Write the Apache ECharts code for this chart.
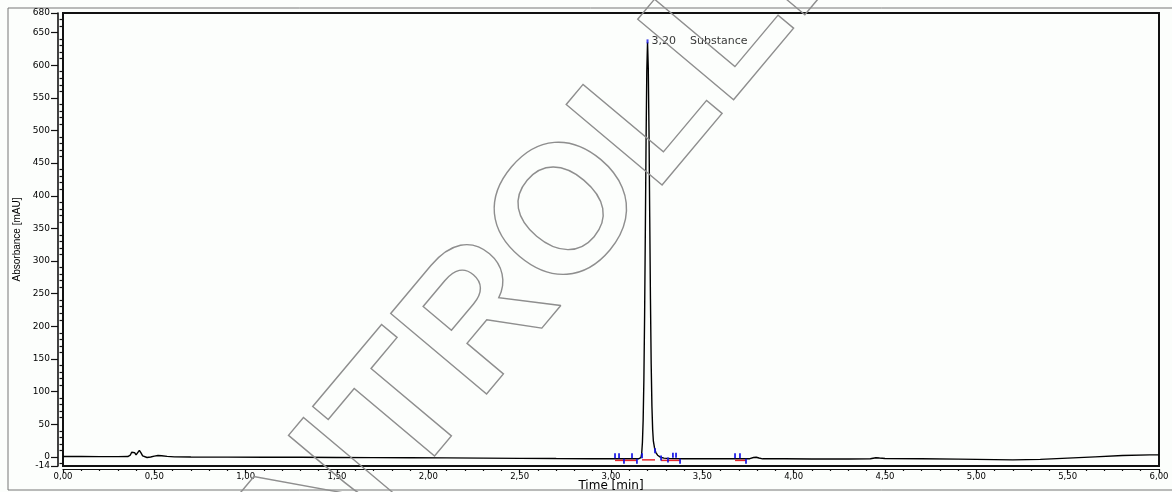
<!DOCTYPE html>
<html>
<head>
<meta charset="utf-8">
<script src="https://cdn.jsdelivr.net/npm/echarts@6/dist/echarts.min.js"></script>
<style>
  html, body { margin: 0; padding: 0; background: #fcfefc; }
  #chart { width: 1172px; height: 492px; }
</style>
</head>
<body>
<div id="chart"></div>
<script>
// Chromatogram trace: retention time (min) and detector signal (mAU)
const times = [
  0.00, 0.10, 0.20, 0.30, 0.355, 0.368, 0.376, 0.383, 0.392, 0.400, 0.408, 0.418, 0.427, 0.436, 0.445,
  0.460, 0.480, 0.500, 0.520, 0.540, 0.570, 0.610, 0.700, 0.900, 1.100, 1.300, 1.500, 1.700, 1.900, 2.100,
  2.300, 2.500, 2.700, 2.900, 3.050, 3.150, 3.164, 3.168, 3.172, 3.176, 3.180, 3.184, 3.188, 3.192,
  3.196, 3.200, 3.204, 3.208, 3.212, 3.216, 3.220, 3.224, 3.228, 3.232, 3.238, 3.245, 3.255, 3.270,
  3.290, 3.320, 3.400, 3.550, 3.700, 3.760, 3.780, 3.795, 3.810, 3.830, 3.950, 4.100, 4.300, 4.420,
  4.450, 4.470, 4.500, 4.700, 4.900, 5.100, 5.200, 5.350, 5.500, 5.650, 5.800, 5.950, 6.000
];
const absorbance = [
  0.5, 0.5, 0.4, 0.4, 0.5, 2.5, 7.0, 10.0, 6.5, 3.0, 6.0, 10.0, 6.0, 1.5, -0.8,
  -1.0, -0.2, 1.2, 2.0, 1.8, 0.8, 0.0, -0.3, -0.4, -0.5, -0.7, -0.9, -1.1, -1.3, -1.6,
  -2.0, -2.3, -2.6, -2.8, -3.0, -3.0, -1.0, 5.0, 22, 56, 118, 217, 347, 485,
  591, 635, 597, 500, 368, 242, 142, 78, 42, 24, 14, 7, 2.5, -0.5,
  -2.0, -2.6, -2.8, -2.8, -2.9, -2.8, -1.0, -0.6, -1.8, -3.0, -3.0, -3.3, -3.2, -2.8,
  -1.3, -1.8, -2.4, -2.9, -3.4, -4.2, -4.6, -3.8, -2.0, 0.0, 2.0, 3.0, 3.0
];

// Identified peak
const peakTimes = [3.20];
const peakHeights = [635];
const peakNames = ['Substance'];

// Integration marks: time, signal level, direction (1 = up, -1 = down)
const markTimes  = [3.022, 3.044, 3.071, 3.115, 3.142, 3.170, 3.241, 3.274, 3.312, 3.339, 3.356, 3.378, 3.679, 3.706, 3.739];
const markLevels = [-2.3, -2.3, -3.0, -2.3, -3.0, -2.3, 5.5, 2.0, -1.0, -1.5, -1.5, -3.0, -2.3, -2.3, -3.0];
const markDirs   = [1, 1, -1, 1, -1, 1, 1, -1, -1, 1, 1, -1, 1, 1, -1];

// Integration baselines
const baseStart = [3.022, 3.170, 3.274, 3.679];
const baseEnd   = [3.142, 3.241, 3.378, 3.739];
const baseLevel = [-5.4, -4.6, -5.4, -5.4];

// Axis ticks
const xMin = 0, xMax = 6, xStep = 0.5;
const yMin = -14, yMax = 680;
const yTickLabels = [-14, 0, 50, 100, 150, 200, 250, 300, 350, 400, 450, 500, 550, 600, 650, 680];
const yMinorTicks = [];
for (let v = -10; v <= 670; v += 10) {
  if (v % 50 !== 0) yMinorTicks.push(v);
}

const fmtComma = (v, d) => v.toFixed(d).replace('.', ',');

const chart = echarts.init(document.getElementById('chart'), null, { renderer: 'canvas' });

const tickFont = 'DejaVu Sans';

const option = {
  animation: false,
  backgroundColor: '#fcfefc',
  grid: {
    left: 63, right: 13, top: 13, bottom: 26,
    outerBoundsMode: 'none',
    containLabel: false,
    show: true, borderColor: '#111', borderWidth: 2, backgroundColor: 'transparent'
  },
  xAxis: {
    type: 'value', min: xMin, max: xMax, interval: xStep, offset: 3,
    name: 'Time [min]', nameLocation: 'middle', nameGap: 11, nameMoveOverlap: false,
    nameTextStyle: { fontFamily: tickFont, fontSize: 12, color: '#000' },
    axisLine: { show: true, onZero: false, lineStyle: { color: '#111', width: 1.2 } },
    axisTick: { show: true, inside: false, length: 4, lineStyle: { color: '#111', width: 1.2 } },
    minorTick: { show: true, splitNumber: 5, length: 2, lineStyle: { color: '#111', width: 1.2 } },
    axisLabel: {
      margin: 3, fontFamily: tickFont, fontSize: 8.5, color: '#000',
      formatter: v => fmtComma(v, 2)
    },
    splitLine: { show: false }
  },
  yAxis: [
    {
      type: 'value', min: yMin, max: yMax, offset: 5, position: 'left',
      name: 'Absorbance [mAU]', nameLocation: 'middle', nameGap: 36, nameRotate: 90, nameMoveOverlap: false,
      nameTextStyle: { fontFamily: 'Liberation Sans', fontSize: 10, color: '#000' },
      axisLine: { show: true, onZero: false, lineStyle: { color: '#111', width: 1.6 } },
      axisTick: { show: true, inside: false, length: 7, customValues: yTickLabels, lineStyle: { color: '#111', width: 1.2 } },
      axisLabel: {
        margin: 8, fontFamily: tickFont, fontSize: 9, color: '#000',
        customValues: yTickLabels, formatter: v => String(v)
      },
      splitLine: { show: false }
    },
    {
      type: 'value', min: yMin, max: yMax, offset: 5, position: 'left',
      axisLine: { show: false },
      axisTick: { show: true, inside: false, length: 3.5, customValues: yMinorTicks, lineStyle: { color: '#111', width: 1.2 } },
      axisLabel: { show: false },
      splitLine: { show: false }
    }
  ],
  series: [
    {
      type: 'line',
      data: times.map((t, i) => [t, absorbance[i]]),
      showSymbol: false,
      lineStyle: { color: '#000', width: 1.4 },
      z: 5
    },
    {
      type: 'custom',
      data: baseStart.map((t, i) => [t, baseEnd[i], baseLevel[i]]),
      encode: { x: [0, 1], y: 2 },
      renderItem: (params, api) => {
        const a = api.coord([api.value(0), api.value(2)]);
        const b = api.coord([api.value(1), api.value(2)]);
        return { type: 'line', shape: { x1: a[0], y1: a[1], x2: b[0], y2: b[1] },
                 style: { stroke: '#e5262b', lineWidth: 1.5 } };
      },
      z: 6
    },
    {
      type: 'custom',
      data: markTimes.map((t, i) => [t, markLevels[i], markDirs[i]]),
      encode: { x: 0, y: 1 },
      renderItem: (params, api) => {
        const p = api.coord([api.value(0), api.value(1)]);
        const d = api.value(2);
        return { type: 'line', shape: { x1: p[0], y1: p[1], x2: p[0], y2: p[1] - d * 5 },
                 style: { stroke: '#1414e6', lineWidth: 1.7 } };
      },
      z: 7
    },
    {
      type: 'scatter',
      data: peakTimes.map((t, i) => ({ value: [t, peakHeights[i]], name: peakNames[i] })),
      symbol: 'rect',
      symbolSize: [2, 4],
      symbolOffset: [0, -1],
      itemStyle: { color: '#1414e6' },
      label: {
        show: true, position: 'right', distance: 3, color: '#000',
        formatter: p => '{t|' + fmtComma(p.value[0], 2) + '}{n|' + p.name + '}',
        rich: {
          t: { fontFamily: tickFont, fontSize: 11, color: '#000' },
          n: { fontFamily: tickFont, fontSize: 11, color: '#000', padding: [0, 0, 0, 14] }
        }
      },
      z: 8
    }
  ],
  graphic: [
    {
      type: 'rect', silent: true, z: 0,
      shape: { x: 8, y: 8, width: 1200, height: 482 },
      style: { fill: 'none', stroke: '#777', lineWidth: 1 }
    },
    {
      type: 'text', silent: true, z: 100,
      x: 515, y: 282, rotation: 50 * Math.PI / 180,
      style: {
        text: 'CONTROLLED',
        font: 'bold 182px "Liberation Sans"',
        align: 'center', verticalAlign: 'middle',
        fill: 'none', stroke: '#8e8e8e', lineWidth: 1.4
      }
    }
  ]
};

chart.setOption(option);
</script>
</body>
</html>
